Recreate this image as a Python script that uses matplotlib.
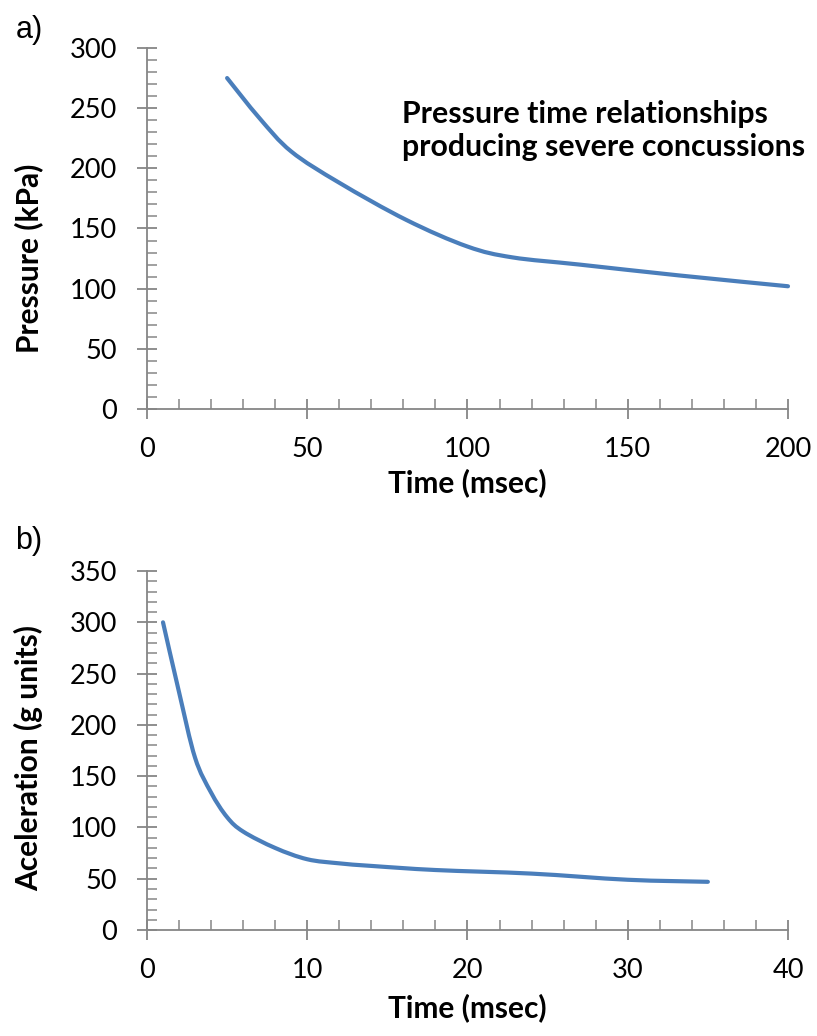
import numpy as np
import matplotlib.pyplot as plt
from matplotlib.path import Path
from matplotlib.patches import PathPatch
from matplotlib.ticker import MultipleLocator

# Pressure–duration curve (panel a)
time_a = [25, 35, 45, 60, 81, 100, 114, 135, 166, 200]
pressure_a = [275, 242, 214, 188, 157, 135, 126, 120, 111, 102]

# Acceleration–duration curve (panel b)
time_b = [1, 2, 3, 4, 5, 6, 8, 10, 12, 14, 18, 24, 30, 35]
accel_b = [300, 232, 168, 134, 110, 96, 80, 69, 65, 62.5, 58.5, 55, 49, 47]

plt.rcParams['font.family'] = ['Lato', 'DejaVu Sans']

line_color = '#4a7ebb'
axis_color = '#868686'

fig = plt.figure(figsize=(8.17, 10.36), dpi=100)
ax_a = fig.add_axes([0.1799, 0.6052, 0.7846, 0.3485])
ax_b = fig.add_axes([0.1799, 0.1023, 0.7846, 0.3465])


def smooth_line(ax, x, y):
    # spreadsheet-style smoothed line: cubic Bezier segments through each point
    pts = np.column_stack([x, y]).astype(float)
    n = len(pts)
    verts = [pts[0]]
    codes = [Path.MOVETO]
    for i in range(n - 1):
        p0 = pts[i - 1] if i > 0 else pts[i]
        p1 = pts[i]
        p2 = pts[i + 1]
        p3 = pts[i + 2] if i + 2 < n else pts[i + 1]
        verts += [p1 + (p2 - p0) / 6, p2 - (p3 - p1) / 6, p2]
        codes += [Path.CURVE4] * 3
    patch = PathPatch(Path(verts, codes), fill=False, edgecolor=line_color,
                      linewidth=3, capstyle='round', joinstyle='round',
                      transform=ax.transData, clip_on=False)
    ax.add_patch(patch)


def style_axes(ax, xmax, xmajor, xminor, ymax, ymajor, yminor, ylabel, ylab_y, xlab_y):
    ax.set_xlim(0, xmax)
    ax.set_ylim(0, ymax)
    ax.xaxis.set_major_locator(MultipleLocator(xmajor))
    ax.xaxis.set_minor_locator(MultipleLocator(xminor))
    ax.yaxis.set_major_locator(MultipleLocator(ymajor))
    ax.yaxis.set_minor_locator(MultipleLocator(yminor))
    for side in ['top', 'right']:
        ax.spines[side].set_visible(False)
    for side in ['left', 'bottom']:
        ax.spines[side].set_color(axis_color)
        ax.spines[side].set_linewidth(1.3)
    ax.tick_params(which='major', direction='inout', length=15, width=1.3,
                   color=axis_color, labelsize=19.5, labelcolor='black')
    ax.tick_params(axis='x', which='major', pad=13)
    ax.tick_params(axis='y', which='major', pad=14)
    ax.tick_params(which='minor', direction='in', length=7, width=1.1,
                   color=axis_color)
    ax.set_xlabel('Time (msec)', fontsize=21.5, fontweight='bold')
    ax.set_ylabel(ylabel, fontsize=21.5, fontweight='bold')
    ax.xaxis.set_label_coords(0.5, xlab_y)
    ax.yaxis.set_label_coords(-0.162, ylab_y)
    ax.patch.set_visible(False)


smooth_line(ax_a, time_a, pressure_a)
style_axes(ax_a, 200, 50, 10, 300, 50, 10, 'Pressure (kPa)', 0.418, -0.163)
ax_a.text(0.398, 0.857, 'Pressure time relationships\nproducing severe concussions',
          transform=ax_a.transAxes, fontsize=21.8, fontweight='bold',
          ha='left', va='top', linespacing=1.25)

smooth_line(ax_b, time_b, accel_b)
style_axes(ax_b, 40, 10, 2, 350, 50, 10, 'Aceleration (g units)', 0.479, -0.177)

fig.text(0.019, 0.971, 'a)', fontsize=22, family='Liberation Sans', va='center')
fig.text(0.019, 0.478, 'b)', fontsize=22, family='Liberation Sans', va='center')

fig.savefig('out.png', dpi=100)
